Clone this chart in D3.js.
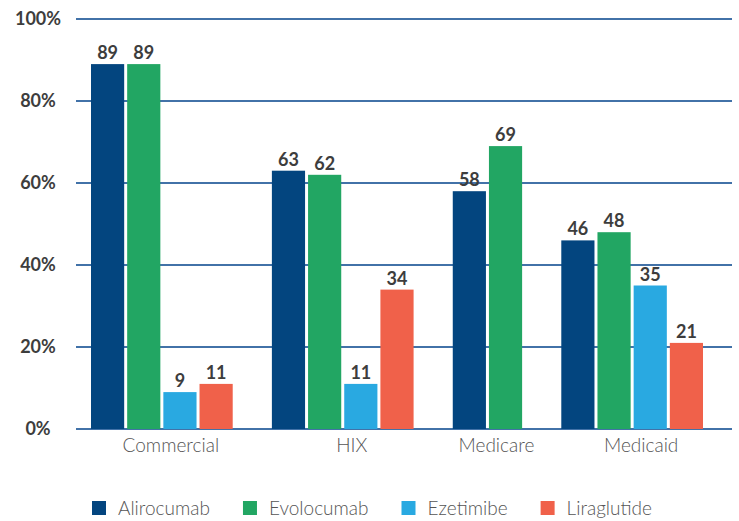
<!DOCTYPE html>
<html>
<head>
<meta charset="utf-8">
<script src="https://cdn.jsdelivr.net/npm/d3@7"></script>
<style>
  body { margin: 0; background: #fff; }
  svg { display: block; font-family: Lato, "Open Sans", sans-serif; }
</style>
</head>
<body>
<div id="chart"></div>
<script>
// data
var categories = ["Commercial", "HIX", "Medicare", "Medicaid"];
var drugs = ["Alirocumab", "Evolocumab", "Ezetimibe", "Liraglutide"];
var alirocumab  = [89, 63, 58, 46];
var evolocumab  = [89, 62, 69, 48];
var ezetimibe   = [9, 11, null, 35];
var liraglutide = [11, 34, null, 21];
var yTicks = [0, 20, 40, 60, 80, 100];
var colors = ["#03457f", "#22a663", "#29a9e1", "#f0614a"];

var series = [alirocumab, evolocumab, ezetimibe, liraglutide];

var width = 739, height = 521;
var svg = d3.select("#chart").append("svg")
  .attr("width", width)
  .attr("height", height);

// each bar takes one slot, groups are separated by one empty slot
var bars = [];
var groups = [];
var slot = 0;
categories.forEach(function (c, ci) {
  var start = slot;
  series.forEach(function (s, si) {
    if (s[ci] == null) return;
    bars.push({cat: c, drug: drugs[si], value: s[ci], slot: slot, color: colors[si]});
    slot++;
  });
  groups.push({cat: c, start: start, end: slot});
  slot++; // gap
});
var totalSlots = slot - 1;

var x = d3.scaleLinear().domain([0, totalSlots]).range([91, 706]);
var y = d3.scaleLinear().domain([0, 100]).range([429, 19]);
var step = x(1) - x(0);
var barW = step - 3;

// gridlines
svg.append("g")
  .selectAll("line")
  .data(yTicks)
  .enter()
  .append("line")
  .attr("x1", 76)
  .attr("x2", 732)
  .attr("y1", function (d) { return y(d); })
  .attr("y2", function (d) { return y(d); })
  .attr("stroke", "#4272a8")
  .attr("stroke-width", 2);

// y tick labels
svg.append("g")
  .selectAll("text")
  .data(yTicks)
  .enter()
  .append("text")
  .attr("x", 38)
  .attr("y", function (d) { return y(d) + 6; })
  .attr("text-anchor", "middle")
  .attr("font-size", "18px")
  .attr("font-weight", 700)
  .attr("fill", "#3d3d3d")
  .text(function (d) { return d + "%"; });

// bars
svg.append("g")
  .selectAll("rect")
  .data(bars)
  .enter()
  .append("rect")
  .attr("x", function (d) { return x(d.slot); })
  .attr("y", function (d) { return y(d.value); })
  .attr("width", barW)
  .attr("height", function (d) { return y(0) - y(d.value); })
  .attr("fill", function (d) { return d.color; });

// value labels
svg.append("g")
  .selectAll("text")
  .data(bars)
  .enter()
  .append("text")
  .attr("x", function (d) { return x(d.slot) + barW / 2; })
  .attr("y", function (d) { return y(d.value) - 5; })
  .attr("text-anchor", "middle")
  .attr("font-size", "18px")
  .attr("font-weight", 700)
  .attr("fill", "#3d3d3d")
  .text(function (d) { return d.value; });

// category labels
svg.append("g")
  .selectAll("text")
  .data(groups)
  .enter()
  .append("text")
  .attr("x", function (d) { return (x(d.start) + x(d.end) - 3) / 2 + 9; })
  .attr("y", 452)
  .attr("text-anchor", "middle")
  .attr("font-size", "19px")
  .attr("font-weight", 300)
  .attr("fill", "#555")
  .text(function (d) { return d.cat; });

// legend
var legend = svg.append("g");
var lx = 92;
drugs.forEach(function (d, i) {
  var item = legend.append("g").attr("transform", "translate(" + lx + ",0)");
  item.append("rect")
    .attr("x", 0).attr("y", 501)
    .attr("width", 14).attr("height", 14)
    .attr("fill", colors[i]);
  var t = item.append("text")
    .attr("x", 26).attr("y", 515)
    .attr("font-size", "19px")
    .attr("font-weight", 300)
    .attr("fill", "#555")
    .text(d);
  lx += 26 + t.node().getComputedTextLength() + 33;
});
</script>
</body>
</html>
